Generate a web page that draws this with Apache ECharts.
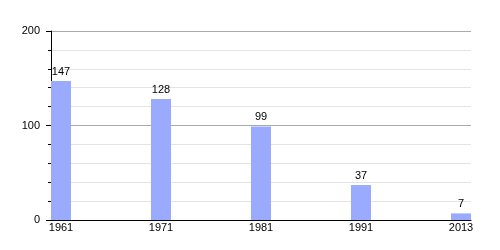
<!DOCTYPE html>
<html>
<head>
<meta charset="utf-8">
<script src="https://cdn.jsdelivr.net/npm/echarts@6/dist/echarts.min.js"></script>
<style>html,body{margin:0;padding:0;background:#fff;}#c{width:500px;height:250px;}</style>
</head>
<body>
<div id="c"></div>
<script>
var categories = ['1961', '1971', '1981', '1991', '2013'];
var values = [147, 128, 99, 37, 7];
var yTicks = [0, 100, 200];

var chart = echarts.init(document.getElementById('c'), null, {renderer: 'canvas'});
var font = 'Liberation Sans, Arial, sans-serif';
chart.setOption({
  animation: false,
  grid: {left: 51, right: 29, top: 31, bottom: 30, containLabel: false},
  xAxis: {
    type: 'value', min: -0.1, max: categories.length - 0.9,
    splitLine: {show: false},
    axisLine: {show: true, onZero: false, lineStyle: {color: '#000', width: 1}},
    axisTick: {show: false},
    axisLabel: {
      customValues: categories.map(function (c, i) { return i; }),
      formatter: function (v) { return categories[Math.round(v)]; },
      color: '#000', fontSize: 11, fontFamily: font, margin: 2
    }
  },
  yAxis: {
    type: 'value', min: yTicks[0], max: yTicks[yTicks.length - 1], interval: 100,
    axisLine: {show: true, onZero: false, lineStyle: {color: '#000', width: 1}},
    axisTick: {show: true, length: 5, lineStyle: {color: '#000'}},
    minorTick: {show: true, splitNumber: 5, length: 3, lineStyle: {color: '#000'}},
    splitLine: {show: true, lineStyle: {color: '#aaa', width: 1}},
    minorSplitLine: {show: true, lineStyle: {color: '#e4e4e4', width: 1}},
    axisLabel: {color: '#000', fontSize: 11, fontFamily: font, margin: 11}
  },
  series: [{
    type: 'bar',
    barWidth: 20,
    data: values.map(function (v, i) { return [i, v]; }),
    itemStyle: {color: '#99aaff'},
    label: {
      show: true, position: 'top', distance: 4,
      color: '#000', fontSize: 11, fontFamily: font,
      formatter: function (p) { return p.value[1]; }
    }
  }]
});
</script>
</body>
</html>
